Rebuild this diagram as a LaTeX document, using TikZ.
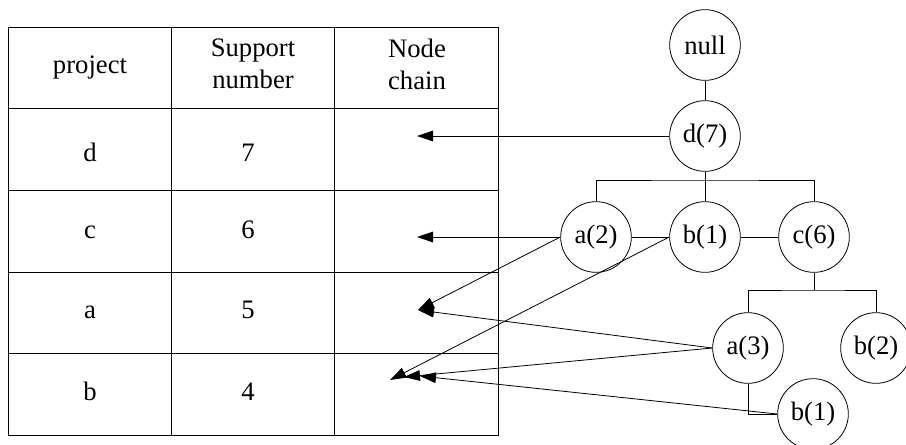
\documentclass[tikz,border=0pt]{standalone}
\usepackage{fontspec}
\setmainfont{Liberation Serif}
\usetikzlibrary{arrows.meta,calc}

\begin{document}
\begin{tikzpicture}[x=0.75pt,y=-0.75pt,
    every node/.style={font=\fontsize{20}{24}\selectfont},
    item/.style={circle,draw,line width=0.6pt,minimum size=53pt,inner sep=0pt},
    link/.style={line width=0.6pt},
    ptr/.style={line width=0.6pt,-{Triangle[length=12pt,width=8pt]}}]
    \useasboundingbox (0,0) rectangle (906,444);

    % Table frame
    \draw[link] (8,27) rectangle (498,435);
    \foreach \y in {108,190,272,353} \draw[link] (8,\y) -- (498,\y);
    \foreach \x in {171,334} \draw[link] (\x,27) -- (\x,435);

    % Table header
    \node[anchor=base] (hproj) at (90,73) {project};
    \node[align=center] (hsup) at (253,64) {Support\\number};
    \node[align=center] (hchain) at (417,64) {Node\\chain};

    % Table rows
    \node[anchor=base] (pd) at (90,161) {d};
    \node[anchor=base] (sd) at (248,161) {7};
    \node[anchor=base] (pc) at (90,238) {c};
    \node[anchor=base] (sc) at (248,238) {6};
    \node[anchor=base] (pa) at (90,318) {a};
    \node[anchor=base] (sa) at (248,318) {5};
    \node[anchor=base] (pb) at (90,400) {b};
    \node[anchor=base] (sb) at (248,400) {4};

    % Chain ends
    \coordinate (chd) at (417,136);
    \coordinate (chc) at (417,237);
    \coordinate (cha) at (418,310);
    \coordinate (chb1) at (390,380);
    \coordinate (chb2) at (404,377);
    \coordinate (chb3) at (420,376);

    % Tree nodes
    \node[item] (root) at (705,45) {null};
    \node[item] (d7) at (705,136) {d(7)};
    \node[item] (a2) at (596,237) {a(2)};
    \node[item] (b1) at (705,237) {b(1)};
    \node[item] (c6) at (814,237) {c(6)};
    \node[item] (a3) at (748,348) {a(3)};
    \node[item] (b2) at (876,348) {b(2)};
    \node[item] (b1low) at (813,414) {b(1)};

    % Tree links
    \coordinate (j1) at (705,180);
    \coordinate (j2) at (814,290);
    \draw[link] (root) -- (d7);
    \draw[link] (d7) -- (j1);
    \draw[link] (a2.north) |- (j1) -| (c6.north);
    \draw[link] (j1) -- (b1);
    \draw[link] (a2) -- (b1) -- (c6);
    \draw[link] (c6) -- (j2);
    \draw[link] (a3.north) |- (j2) -| (b2.north);
    \draw[link] (a3.south) |- (b1low.west);

    % Node chain pointers
    \draw[ptr] (d7.west) -- (chd);
    \draw[ptr] (a2.west) -- (chc);
    \draw[ptr] (a2.west) -- (cha);
    \draw[ptr] (a3.west) -- (cha);
    \draw[ptr] (b1.west) -- (chb1);
    \draw[ptr] (a3.west) -- (chb2);
    \draw[ptr] (b1low.west) -- (chb3);
\end{tikzpicture}
\end{document}
